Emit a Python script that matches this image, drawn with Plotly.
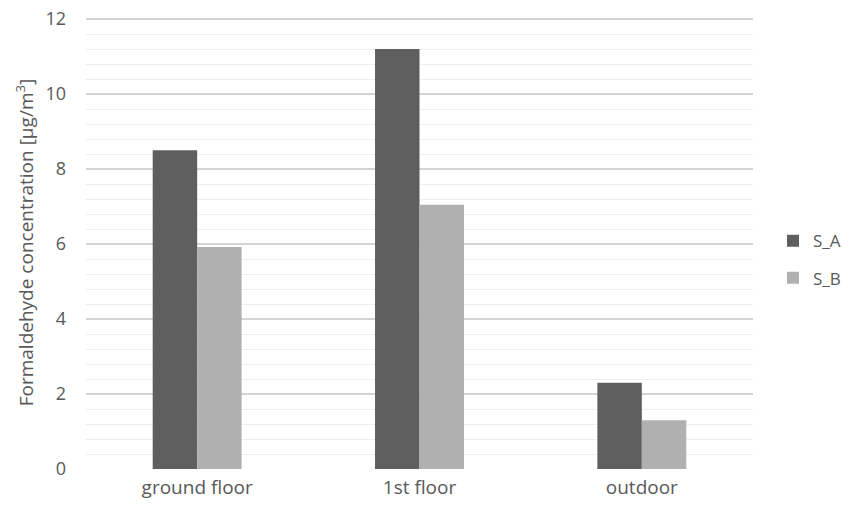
import plotly.graph_objects as go

categories = ["ground floor", "1st floor", "outdoor"]
s_a = [8.5, 11.2, 2.3]
s_b = [5.92, 7.05, 1.3]
series_names = ["S_A", "S_B"]
tick_vals = [0, 2, 4, 6, 8, 10, 12]

FONT = "Open Sans"

fig = go.Figure()
fig.add_trace(go.Bar(x=categories, y=s_a, name=series_names[0],
                     marker=dict(color="#5f5f5f", line=dict(width=0)),
                     legendgroup="a"))
fig.add_trace(go.Bar(x=categories, y=s_b, name=series_names[1],
                     marker=dict(color="#b0b0b0", line=dict(width=0)),
                     legendgroup="b"))

fig.update_layout(
    width=857, height=509,
    margin=dict(l=86, r=104, t=16, b=40, autoexpand=False),
    plot_bgcolor="white", paper_bgcolor="white",
    barmode="group", bargap=0.6, bargroupgap=0,
    font=dict(family=FONT, color="#595959", size=17),
    legend=dict(x=1.03, xanchor="left", y=0.462, yanchor="middle",
                font=dict(size=17, color="#595959"),
                tracegroupgap=12, itemwidth=30),
    xaxis=dict(showgrid=False, showline=False, ticks="", automargin=False,
               ticklabelstandoff=5,
               tickfont=dict(size=19, color="#595959")),
    yaxis=dict(range=[0, 12.08], tickvals=tick_vals, automargin=False,
               showgrid=True, gridcolor="#d4d4d4", gridwidth=1.5,
               zeroline=False, showline=False, ticks="",
               ticklen=0, ticklabelstandoff=19,
               ticklabeloverflow="allow",
               tickfont=dict(size=18, color="#595959"),
               minor=dict(dtick=0.4, showgrid=True, gridcolor="#eeeeee", gridwidth=1),
               title=dict(text="Formaldehyde concentration [µg/m<sup>3</sup>]",
                          font=dict(size=19, color="#595959"), standoff=6)),
)

fig.write_html("out.html", post_script="document.body.style.margin='0';",
               config={"displayModeBar": False})
